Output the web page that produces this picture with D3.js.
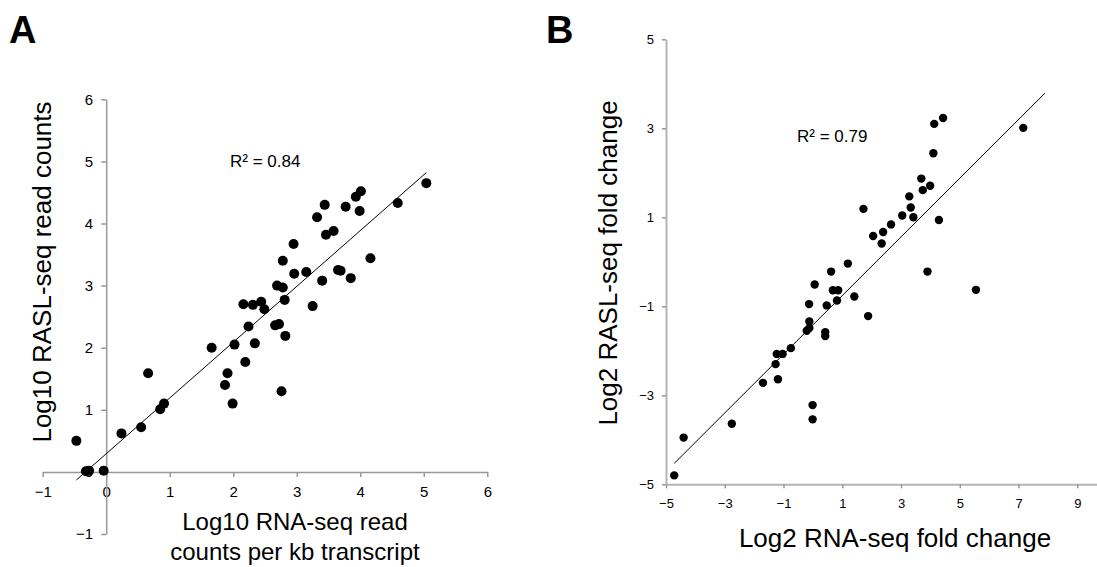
<!DOCTYPE html>
<meta charset="utf-8">
<style>
  body { margin: 0; background: #fff; }
  text { font-family: "Liberation Sans", Arial, sans-serif; fill: #000; }
  .tick line { stroke: #999; }
  .panelLabel { font-size: 38px; font-weight: bold; }
</style>
<svg width="1097" height="567"></svg>
<script src="https://d3js.org/d3.v7.min.js"></script>
<script>

// panel A: log10 RNA-seq (per kb) vs log10 RASL-seq read counts
var aX = [5.04, 4.59, 4.01, 3.93, 3.99, 3.77, 3.44, 3.32, 3.46, 3.58, 2.95, 4.16, 2.78, 3.15, 2.96,
          3.65, 3.69, 3.85, 3.40, 2.69, 2.78, 2.81, 3.25, 2.16, 2.31, 2.44, 2.49, 2.24, 2.66, 2.72,
          2.82, 1.66, 2.02, 2.34, 2.19, 1.91, 0.66, 1.87, 2.76, 1.99, 0.85, 0.91, 0.55, 0.24, -0.47,
          -0.32, -0.27, -0.04];
var aY = [4.65, 4.33, 4.52, 4.43, 4.20, 4.27, 4.30, 4.10, 3.82, 3.88, 3.67, 3.44, 3.40, 3.22, 3.19,
          3.25, 3.24, 3.12, 3.08, 3.00, 2.97, 2.77, 2.67, 2.70, 2.69, 2.74, 2.62, 2.34, 2.36, 2.38,
          2.19, 2.00, 2.05, 2.07, 1.77, 1.59, 1.59, 1.40, 1.30, 1.10, 1.01, 1.10, 0.72, 0.62, 0.50,
          0.01, 0.02, 0.02];
var aTicks = [-1, 0, 1, 2, 3, 4, 5, 6];
var aFit = [[-0.47, -0.13], [5.04, 4.82]];

// panel B: log2 fold changes
var bX = [4.43, 4.13, 7.16, 4.10, 3.69, 3.99, 3.74, 3.28, 3.33, 3.04, 3.42, 4.29, 1.72, 2.66, 2.39,
          2.05, 2.34, 1.19, 0.62, 3.90, 0.06, 0.68, 0.86, 5.55, 1.41, 0.82, -0.13, 0.47, 1.88, -0.12,
          -0.12, -0.21, 0.42, 0.42, -0.75, -1.23, -1.03, -1.27, -1.70, -1.19, -0.01, -0.01, -2.76, -4.40, -4.72];
var bY = [3.23, 3.10, 3.01, 2.44, 1.87, 1.71, 1.61, 1.47, 1.22, 1.04, 1.00, 0.94, 1.19, 0.84, 0.67,
          0.58, 0.41, -0.04, -0.22, -0.22, -0.51, -0.64, -0.64, -0.63, -0.78, -0.87, -0.95, -0.98, -1.22, -1.34,
          -1.49, -1.55, -1.58, -1.67, -1.94, -2.07, -2.07, -2.30, -2.72, -2.64, -3.22, -3.54, -3.64, -3.95, -4.80];
var bTicks = [-5, -3, -1, 1, 3, 5, 7, 9];
var bYTicks = [-5, -3, -1, 1, 3, 5];
var bFit = [[-4.72, -4.53], [7.90, 3.79]];

var svg = d3.select("svg");
var fmt = d3.format("");

// ---------- panel A ----------
var xA = d3.scaleLinear().domain([-1, 6]).range([42.7, 487.3]);
var yA = d3.scaleLinear().domain([-1, 6]).range([534, 99.3]);
var gA = svg.append("g");

var axA = gA.append("g")
    .attr("transform", "translate(0," + yA(0) + ")")
    .call(d3.axisBottom(xA).tickValues(aTicks).tickFormat(fmt).tickSize(5).tickSizeOuter(0).tickPadding(9));
var ayA = gA.append("g")
    .attr("transform", "translate(" + xA(0) + ",0)")
    .call(d3.axisLeft(yA).tickValues(aTicks).tickFormat(fmt).tickSize(5).tickSizeOuter(0).tickPadding(8));
[axA, ayA].forEach(function(a) {
  a.select(".domain").attr("stroke", "#999").attr("stroke-width", 1.5);
  a.selectAll(".tick line").attr("stroke", "#999").attr("stroke-width", 1.5);
  a.selectAll("text").style("font-size", "15px").attr("fill", "#000");
});

gA.append("line")
    .attr("x1", xA(aFit[0][0])).attr("y1", yA(aFit[0][1]))
    .attr("x2", xA(aFit[1][0])).attr("y2", yA(aFit[1][1]))
    .attr("stroke", "#000").attr("stroke-width", 1);

gA.selectAll("circle").data(d3.range(aX.length)).enter().append("circle")
    .attr("cx", function(i) { return xA(aX[i]); })
    .attr("cy", function(i) { return yA(aY[i]); })
    .attr("r", 5)
    .attr("fill", "#000");

gA.append("text").attr("x", 230).attr("y", 167).style("font-size", "17px").text("R\u00b2 = 0.84");

gA.append("text")
    .attr("transform", "translate(51,272) rotate(-90)")
    .attr("text-anchor", "middle")
    .style("font-size", "26px")
    .text("Log10 RASL-seq read counts");
gA.append("text").attr("x", 295).attr("y", 530).attr("text-anchor", "middle")
    .style("font-size", "24px").text("Log10 RNA-seq read");
gA.append("text").attr("x", 295).attr("y", 560).attr("text-anchor", "middle")
    .style("font-size", "24px").text("counts per kb transcript");

svg.append("text").attr("class", "panelLabel").attr("x", 9).attr("y", 43).text("A");

// ---------- panel B ----------
var xB = d3.scaleLinear().domain([-5, 9.67]).range([666, 1097]);
var yB = d3.scaleLinear().domain([-5, 5]).range([484.3, 39.3]);
var gB = svg.append("g");

var axB = gB.append("g")
    .attr("transform", "translate(0," + yB(-5) + ")")
    .call(d3.axisBottom(xB).tickValues(bTicks).tickFormat(fmt).tickSize(4).tickSizeOuter(0).tickPadding(10));
var ayB = gB.append("g")
    .attr("transform", "translate(" + xB(-5) + ",0)")
    .call(d3.axisLeft(yB).tickValues(bYTicks).tickFormat(fmt).tickSize(4).tickSizeOuter(0).tickPadding(8));
[axB, ayB].forEach(function(a) {
  a.select(".domain").attr("stroke", "#b5b5b5").attr("stroke-width", 2);
  a.selectAll(".tick line").attr("stroke", "#b5b5b5").attr("stroke-width", 1.5);
  a.selectAll("text").style("font-size", "13px").attr("fill", "#000");
});

gB.append("line")
    .attr("x1", xB(bFit[0][0])).attr("y1", yB(bFit[0][1]))
    .attr("x2", xB(bFit[1][0])).attr("y2", yB(bFit[1][1]))
    .attr("stroke", "#000").attr("stroke-width", 1);

gB.selectAll("circle").data(d3.range(bX.length)).enter().append("circle")
    .attr("cx", function(i) { return xB(bX[i]); })
    .attr("cy", function(i) { return yB(bY[i]); })
    .attr("r", 4.2)
    .attr("fill", "#000");

gB.append("text").attr("x", 797).attr("y", 142).style("font-size", "17px").text("R\u00b2 = 0.79");

gB.append("text")
    .attr("transform", "translate(617,263) rotate(-90)")
    .attr("text-anchor", "middle")
    .style("font-size", "26px")
    .text("Log2 RASL-seq fold change");
gB.append("text").attr("x", 895).attr("y", 547).attr("text-anchor", "middle")
    .style("font-size", "26px").text("Log2 RNA-seq fold change");

svg.append("text").attr("class", "panelLabel").attr("x", 546).attr("y", 43).text("B");

</script>
